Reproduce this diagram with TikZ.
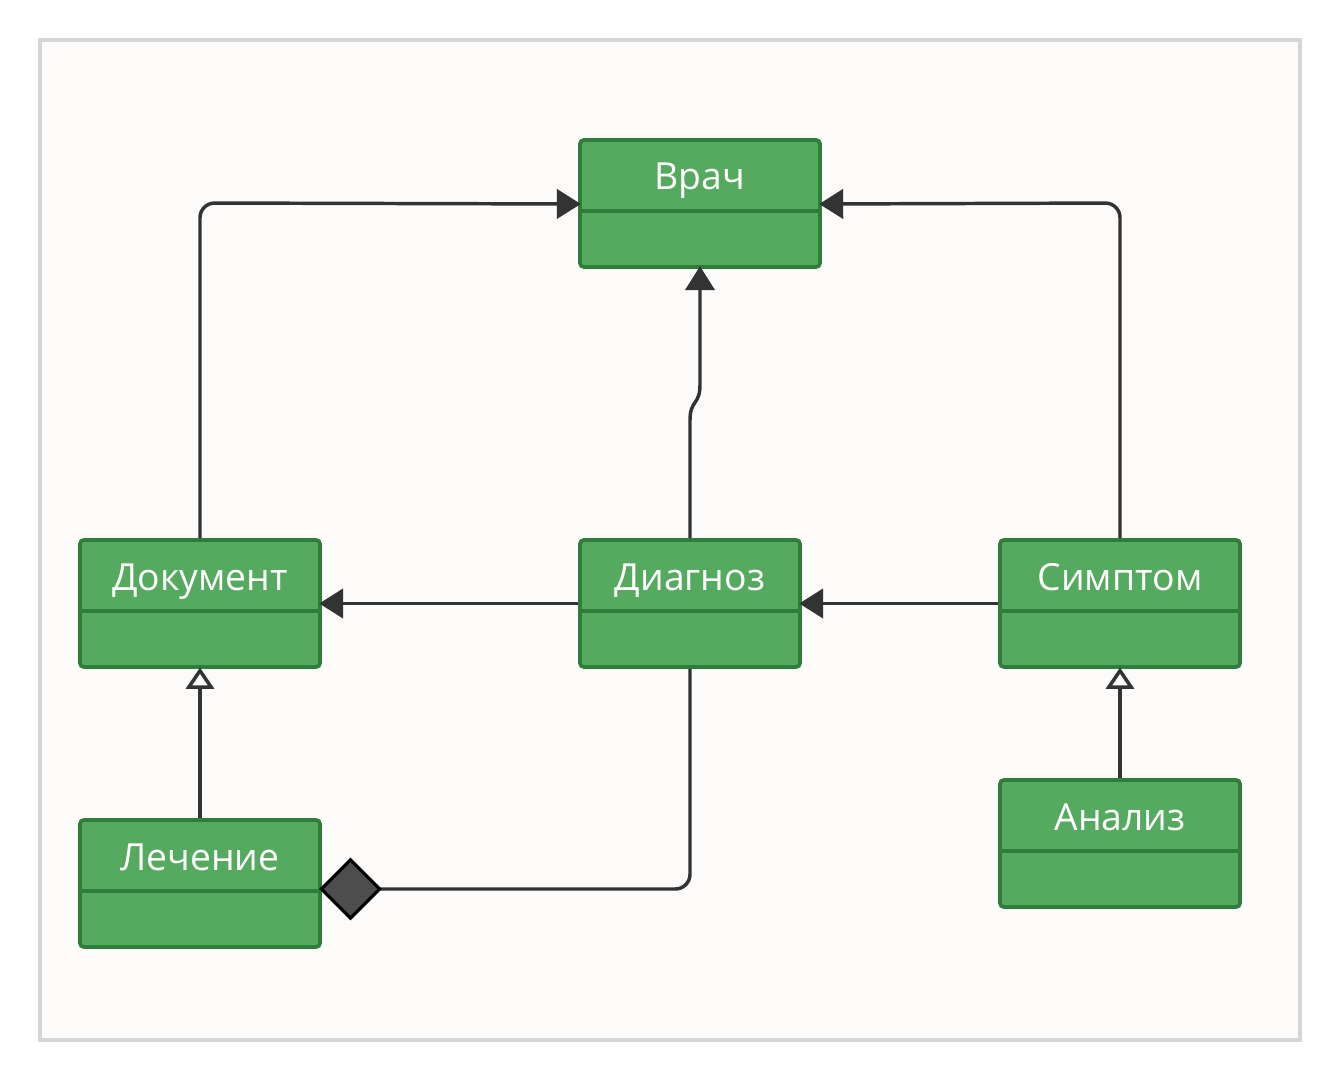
\documentclass[tikz,border=0pt]{standalone}
\usepackage{fontspec}
\setmainfont{Open Sans}
\usetikzlibrary{arrows.meta,positioning}

\definecolor{clsfill}{HTML}{55AA60}
\definecolor{clsborder}{HTML}{2E7D3A}
\definecolor{wire}{HTML}{333333}
\definecolor{paper}{HTML}{FCFBFA}
\definecolor{frame}{HTML}{D6D6D6}
\definecolor{diafill}{HTML}{4D4D4D}

\begin{document}
\begin{tikzpicture}[
x=0.75pt, y=-0.75pt,
cls/.style={draw=clsborder, fill=clsfill, line width=2.8pt, rounded corners=3pt, minimum width=180pt, minimum height=95.25pt, inner sep=0pt},
title/.style={text=white, font=\fontsize{28}{33}\selectfont, inner sep=0pt, anchor=base},
divider/.style={draw=clsborder, line width=2.8pt},
assoc/.style={draw=wire, line width=2.6pt, rounded corners=11pt, shorten >=-2pt, -{Triangle[length=18pt, width=22pt]}},
inherit/.style={draw=wire, line width=2.6pt, shorten >=-1pt, -{Triangle[open, length=16pt, width=21pt, fill=paper]}},
compose/.style={draw=wire, line width=2.6pt, rounded corners=11pt, shorten >=-2pt, -{Diamond[length=47pt, width=47pt, color=black, fill=diafill, line width=2.4pt]}}
]
\useasboundingbox (0,0) rectangle (1340,1080);
\draw[frame, fill=paper, line width=2.5pt] (40,40) rectangle (1300,1040);

% classes
\node[cls] (vrach) at (700,203.5) {};
\node[cls] (dokument) at (200,603.5) {};
\node[cls, minimum width=165pt] (diagnoz) at (690,603.5) {};
\node[cls] (simptom) at (1120,603.5) {};
\node[cls] (lechenie) at (200,883.5) {};
\node[cls] (analiz) at (1120,843.5) {};

\node[title] at (700,190) {Врач};
\node[title] at (200,590) {Документ};
\node[title] at (690,590) {Диагноз};
\node[title] at (1120,590) {Симптом};
\node[title] at (200,870) {Лечение};
\node[title] at (1120,830) {Анализ};

\draw[divider] (vrach.west |- 0,211) -- (vrach.east |- 0,211);
\draw[divider] (dokument.west |- 0,611) -- (dokument.east |- 0,611);
\draw[divider] (diagnoz.west |- 0,611) -- (diagnoz.east |- 0,611);
\draw[divider] (simptom.west |- 0,611) -- (simptom.east |- 0,611);
\draw[divider] (lechenie.west |- 0,891) -- (lechenie.east |- 0,891);
\draw[divider] (analiz.west |- 0,851) -- (analiz.east |- 0,851);

% links
\draw[assoc] (dokument.north) -- (200,203) -- (vrach.west |- 0,204);
\draw[assoc] (simptom.north) -- (1120,203) -- (vrach.east |- 0,204);
\draw[assoc, sharp corners] (diagnoz.north) -- (690,420) .. controls (690,400) and (700,405) .. (700,385) -- (vrach.south);
\draw[assoc] (diagnoz.west) -- (dokument.east);
\draw[assoc] (simptom.west) -- (diagnoz.east);
\draw[inherit] (lechenie.north) -- (dokument.south);
\draw[inherit] (analiz.north) -- (simptom.south);
\draw[compose] (diagnoz.south) -- (690,889) -- (lechenie.east |- 0,889);
\end{tikzpicture}
\end{document}
